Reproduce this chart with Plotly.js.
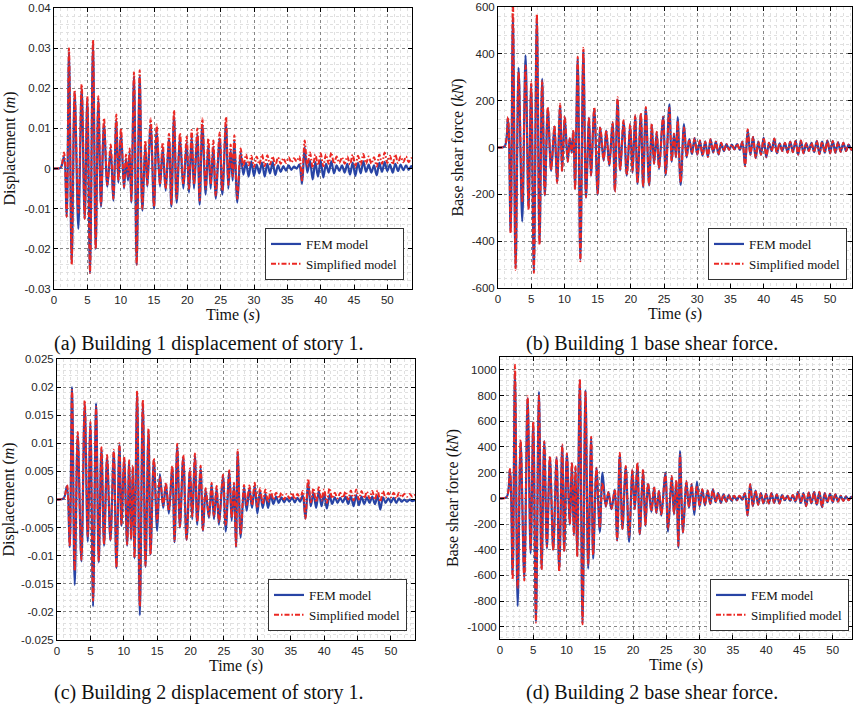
<!DOCTYPE html>
<html>
<head>
<meta charset="utf-8">
<script src="https://cdn.plot.ly/plotly-3.0.1.min.js"></script>
<style>html,body{margin:0;padding:0;background:#fff;}#chart{width:853px;height:706px;}</style>
</head>
<body>
<div id="chart"></div>
<script>
// Shared time axis (s): extremes of the response histories
const t = [0, 1.0, 1.5, 1.9, 2.25, 2.65, 3.1, 3.65, 4.15, 4.6,
  5.0, 5.4, 5.85, 6.25, 6.65, 7.05, 7.5, 8.0, 8.5, 8.9,
  9.35, 9.65, 10.05, 10.5, 10.8, 11.1, 11.35, 11.6, 12.0, 12.4,
  12.85, 13.25, 13.7, 14.0, 14.5, 15.0, 15.4, 15.9, 16.3, 16.75,
  17.25, 17.6, 18.0, 18.4, 18.9, 19.4, 19.9, 20.25, 20.65, 21.0,
  21.5, 21.85, 22.25, 22.75, 23.15, 23.5, 23.9, 24.25, 24.85, 25.25,
  25.8, 26.15, 26.5, 26.8, 27.05, 27.5, 28.0,
  28.4, 28.8, 29.2, 29.6, 30.0, 30.4, 30.8, 31.2, 31.6, 32.0,
  32.4, 32.8, 33.2, 33.6, 34.0, 34.4, 34.8, 35.2, 35.6, 36.0,
  36.4, 36.8, 37.2, 37.6, 38.0, 38.4, 38.8, 39.2, 39.6, 40.0,
  40.4, 40.8, 41.2, 41.6, 42.0, 42.4, 42.8, 43.2, 43.6, 44.0,
  44.4, 44.8, 45.2, 45.6, 46.0, 46.4, 46.8, 47.2, 47.6, 48.0,
  48.4, 48.8, 49.2, 49.6, 50.0, 50.4, 50.8, 51.2, 51.6, 52.0,
  52.4, 52.8, 53.2, 53.6, 53.9];

// (a) Building 1 displacement of story 1 (m)
const aFem = [0, 0.0002, 0.003, -0.012, 0.029, -0.0235, 0.019, -0.015, 0.020, -0.0125,
  0.0175, -0.026, 0.031, -0.020, 0.017, -0.0095, 0.011, -0.0045, 0.005, -0.008,
  0.012, -0.0035, 0.009, -0.005, 0.0025, -0.003, 0.004, -0.0085, 0.023, -0.024,
  0.023, -0.0105, 0.006, -0.0045, 0.011, -0.010, 0.0095, -0.0045, 0.005, -0.0055,
  0.0075, -0.0095, 0.013, -0.0085, 0.0075, -0.005, 0.0065, -0.006, 0.008, -0.005,
  0.0085, -0.009, 0.011, -0.0065, 0.006, -0.005, 0.0055, -0.0075, 0.0075, -0.0065,
  0.011, -0.005, 0.0045, -0.003, 0.007, -0.0085, 0.004,
  -0.0015, 0.0015, -0.002, 0.0018, -0.0018, 0.001, -0.0012, 0.0015, -0.002, 0.0012,
  -0.0012, 0.0016, -0.0016, 0.0008, -0.0008, 0.0006, -0.0005, 0.0008, -0.0003, 0.0005,
  0.0, 0.001, -0.0038, 0.0053, -0.001, 0.002, -0.0027, 0.0016, -0.002, 0.002,
  -0.0022, 0.0012, -0.001, 0.0018, -0.0012, 0.0008, -0.0006, 0.0008, -0.001, 0.0012,
  -0.0015, 0.0015, -0.0018, 0.0014, -0.0012, 0.0018, -0.0008, 0.001, -0.001, 0.0008,
  -0.0017, 0.0014, -0.0008, 0.0016, -0.0006, 0.001, -0.001, 0.0012, -0.0006, 0.001,
  -0.0004, 0.0008, -0.0003, 0.0006, 0.0];
const aSim = [0, 0.0003, 0.004, -0.012, 0.030, -0.024, 0.0195, -0.011, 0.021, -0.0125,
  0.018, -0.026, 0.032, -0.020, 0.018, -0.009, 0.0125, -0.004, 0.006, -0.0075,
  0.0135, -0.003, 0.010, -0.0046, 0.0035, -0.002, 0.005, -0.008, 0.024, -0.024,
  0.0245, -0.010, 0.007, -0.004, 0.0125, -0.0096, 0.011, -0.004, 0.0065, -0.005,
  0.0087, -0.009, 0.0145, -0.0075, 0.0088, -0.004, 0.008, -0.005, 0.0096, -0.004,
  0.010, -0.008, 0.0125, -0.005, 0.0075, -0.004, 0.007, -0.0067, 0.009, -0.0055,
  0.0128, -0.004, 0.006, -0.002, 0.0083, -0.0075, 0.005,
  0.0005, 0.0035, 0.0008, 0.0032, 0.0004, 0.003, 0.001, 0.0035, 0.0006, 0.0033,
  0.001, 0.003, 0.0008, 0.0028, 0.0012, 0.0026, 0.0014, 0.0028, 0.0015, 0.0026,
  0.0018, 0.003, -0.003, 0.007, 0.0005, 0.004, 0.0002, 0.0035, 0.0008, 0.0038,
  0.0006, 0.0035, 0.0012, 0.004, 0.0012, 0.003, 0.0014, 0.0028, 0.0012, 0.003,
  0.001, 0.0035, 0.0004, 0.0032, 0.001, 0.0036, 0.0012, 0.003, 0.0012, 0.0028,
  0.0005, 0.0035, 0.0012, 0.004, 0.0014, 0.0032, 0.001, 0.0035, 0.0014, 0.003,
  0.0016, 0.003, 0.0016, 0.0026, 0.002];

// (b) Building 1 base shear force (kN)
const bFem = [0, 5, 125, -360, 560, -515, 340, -316, 393, -260,
  270, -530, 560, -410, 293, -205, 165, -100, 90, -150,
  180, -100, 130, -62, 38, -22, 70, -178, 380, -480,
  410, -215, 128, -120, 165, -200, 85, -56, 72, -78,
  105, -185, 205, -98, 112, -120, 98, -108, 135, -155,
  142, -170, 168, -162, 98, -70, 64, -92, 133, -118,
  184, -62, 58, -42, 130, -160, 100,
  -42, 36, -28, 40, -30, 30, -35, 26, -40, 35,
  -22, 25, -30, 20, -15, 15, -10, 12, -8, 15,
  -10, 25, -78, 75, -32, 45, -45, 25, -32, 42,
  -42, 20, -15, 38, -25, 18, -15, 20, -22, 25,
  -20, 28, -30, 30, -25, 18, -15, 20, -20, 28,
  -28, 25, -22, 30, -25, 28, -22, 22, -18, 20,
  -15, 12, -10, 8, -5];
const bSim = [0, 5, 130, -366, 620, -522, 322, -230, 350, -267,
  279, -536, 570, -415, 285, -200, 173, -96, 95, -153,
  187, -104, 133, -60, 40, -20, 74, -181, 388, -486,
  425, -212, 130, -118, 173, -196, 88, -54, 74, -75,
  109, -189, 215, -96, 116, -118, 100, -104, 138, -153,
  147, -167, 173, -160, 102, -68, 67, -90, 130, -110,
  170, -60, 60, -40, 115, -150, 85,
  -40, 35, -25, 40, -30, 30, -35, 25, -40, 35,
  -20, 25, -30, 20, -15, 15, -10, 12, -8, 15,
  -10, 25, -80, 78, -30, 45, -45, 25, -30, 42,
  -40, 20, -15, 38, -25, 18, -15, 20, -22, 25,
  -20, 28, -30, 30, -25, 18, -15, 20, -20, 28,
  -28, 25, -22, 30, -25, 28, -22, 22, -18, 20,
  -15, 12, -10, 8, -5];

// (c) Building 2 displacement of story 1 (m)
const cFem = [0, 0.0002, 0.0024, -0.0085, 0.020, -0.0152, 0.0115, -0.011, 0.017, -0.0075,
  0.0135, -0.019, 0.0171, -0.0112, 0.009, -0.0082, 0.0075, -0.0073, 0.0085, -0.0122,
  0.0097, -0.0047, 0.0073, -0.0082, 0.0068, -0.0072, 0.0058, -0.0105, 0.019, -0.0206,
  0.0172, -0.012, 0.0122, -0.0098, 0.007, -0.0056, 0.0045, -0.0015, 0.0027, -0.0025,
  0.0057, -0.0076, 0.0095, -0.005, 0.0075, -0.0072, 0.0052, -0.0035, 0.0078, -0.0045,
  0.0056, -0.0056, 0.0017, -0.0033, 0.0027, -0.0035, 0.002, -0.0045, 0.0042, -0.0057,
  0.005, -0.0038, 0.0026, -0.0085, 0.0085, -0.0068, 0.0022,
  -0.002, 0.002, -0.0015, 0.0025, -0.0025, 0.0015, -0.0015, 0.001, -0.0015, 0.0008,
  -0.0008, 0.0005, -0.0006, 0.0004, -0.0005, 0.0002, -0.0004, 0.0004, -0.0005, 0.0003,
  -0.0004, 0.0008, -0.0034, 0.003, -0.0012, 0.0012, -0.0015, 0.0015, -0.0012, 0.001,
  -0.0016, 0.0008, -0.0008, 0.0004, -0.0006, 0.0003, -0.0005, 0.0005, -0.0008, 0.0006,
  -0.0012, 0.0008, -0.001, 0.0005, -0.0008, 0.0004, -0.0006, 0.0005, -0.0008, 0.0006,
  -0.0018, 0.0004, -0.0006, 0.0002, -0.0005, 0.0003, -0.0006, 0.0002, -0.0004, 0.0,
  -0.0004, 0.0, -0.0003, -0.0001, -0.0002];
const cSim = [0, 0.0002, 0.0026, -0.0083, 0.0195, -0.0127, 0.012, -0.0107, 0.0176, -0.0065,
  0.0138, -0.018, 0.0165, -0.011, 0.0093, -0.008, 0.0079, -0.0071, 0.0088, -0.0121,
  0.010, -0.0045, 0.0076, -0.008, 0.007, -0.007, 0.006, -0.0104, 0.0193, -0.019,
  0.0177, -0.0118, 0.0126, -0.0098, 0.0073, -0.004, 0.004, -0.001, 0.003, -0.002,
  0.006, -0.0074, 0.0099, -0.0048, 0.0079, -0.0071, 0.0055, -0.003, 0.0082, -0.004,
  0.006, -0.0054, 0.002, -0.003, 0.003, -0.003, 0.0024, -0.004, 0.0044, -0.0045,
  0.0052, -0.0033, 0.003, -0.0083, 0.0088, -0.0062, 0.0026,
  -0.001, 0.0025, -0.001, 0.003, -0.0015, 0.002, -0.0008, 0.0018, -0.0005, 0.0015,
  0.0, 0.0012, 0.0002, 0.0012, 0.0, 0.001, 0.0002, 0.0012, 0.0, 0.001,
  0.0002, 0.0015, -0.0034, 0.0037, -0.0005, 0.002, -0.0005, 0.0022, -0.0002, 0.0018,
  -0.0006, 0.002, 0.0002, 0.0012, 0.0002, 0.0012, 0.0003, 0.0014, 0.0, 0.0016,
  -0.0002, 0.0018, 0.0, 0.0015, 0.0002, 0.0014, 0.0002, 0.0015, 0.0, 0.0016,
  -0.0004, 0.0015, 0.0003, 0.0012, 0.0004, 0.0012, 0.0002, 0.0012, 0.0004, 0.001,
  0.0005, 0.001, 0.0005, 0.0008, 0.0006];

// (d) Building 2 base shear force (kN)
const dFem = [0, 10, 220, -600, 980, -838, 440, -620, 780, -428,
  590, -960, 828, -550, 445, -390, 320, -400, 315, -560,
  410, -410, 345, -205, 275, -285, 245, -450, 920, -975,
  840, -548, 470, -470, 235, -262, 200, -65, 48, -85,
  65, -330, 345, -240, 245, -340, 218, -85, 270, -280,
  218, -215, 115, -105, 85, -115, 58, -135, 200, -260,
  170, -125, 135, -385, 367, -270, 130,
  -75, 110, -130, 130, -65, 70, -55, 60, -45, 70,
  -30, 40, -35, 30, -25, 25, -20, 20, -15, 20,
  -10, 40, -135, 110, -60, 60, -50, 40, -40, 35,
  -40, 40, -35, 30, -40, 25, -15, 20, -20, 25,
  -25, 50, -35, 40, -60, 45, -40, 50, -50, 50,
  -70, 40, -30, 35, -30, 30, -25, 20, -20, 15,
  -15, 12, -10, 10, -5];
const dSim = [0, 10, 228, -633, 1040, -700, 456, -640, 795, -400,
  597, -967, 800, -556, 443, -377, 328, -403, 320, -570,
  418, -415, 350, -200, 280, -287, 250, -454, 930, -980,
  833, -518, 480, -440, 238, -230, 120, -60, 50, -80,
  70, -325, 354, -236, 251, -300, 225, -82, 277, -274,
  225, -210, 120, -100, 90, -110, 60, -130, 190, -236,
  174, -120, 140, -370, 340, -262, 135,
  -70, 110, -90, 100, -60, 70, -50, 60, -40, 70,
  -30, 40, -35, 30, -25, 25, -20, 20, -15, 20,
  -10, 40, -130, 110, -60, 60, -50, 40, -40, 35,
  -40, 40, -35, 30, -40, 25, -15, 20, -20, 25,
  -25, 50, -35, 40, -60, 45, -40, 50, -50, 50,
  -70, 40, -30, 35, -30, 30, -25, 20, -20, 15,
  -15, 12, -10, 10, -5];

// Tick labels
const dispA_ticks = [-0.03, -0.02, -0.01, 0, 0.01, 0.02, 0.03, 0.04];
const dispA_text = ['-0.03', '-0.02', '-0.01', '0', '0.01', '0.02', '0.03', '0.04'];
const shearB_ticks = [-600, -400, -200, 0, 200, 400, 600];
const shearB_text = ['-600', '-400', '-200', '0', '200', '400', '600'];
const dispC_ticks = [-0.025, -0.02, -0.015, -0.01, -0.005, 0, 0.005, 0.01, 0.015, 0.02, 0.025];
const dispC_text = ['-0.025', '-0.02', '-0.015', '-0.01', '-0.005', '0', '0.005', '0.01', '0.015', '0.02', '0.025'];
const shearD_ticks = [-1000, -800, -600, -400, -200, 0, 200, 400, 600, 800, 1000];
const shearD_text = ['-1000', '-800', '-600', '-400', '-200', '0', '200', '400', '600', '800', '1000'];
const timeTicks = [0, 5, 10, 15, 20, 25, 30, 35, 40, 45, 50];
const seriesNames = ['FEM model', 'Simplified model'];
const captions = ['(a) Building 1 displacement of story 1.', '(b) Building 1 base shear force.',
  '(c) Building 2 displacement of story 1.', '(d) Building 2 base shear force.'];

const SERIF = '"Liberation Serif", "Times New Roman", Times, serif';
const SANS = '"Liberation Sans", Arial, Helvetica, sans-serif';
const BLUE = 'rgb(40,68,165)';
const RED = 'rgb(235,40,35)';

const panels = [
  {fem: aFem, sim: aSim, x: 'x', y: 'y', leg: 'legend'},
  {fem: bFem, sim: bSim, x: 'x2', y: 'y2', leg: 'legend2'},
  {fem: cFem, sim: cSim, x: 'x3', y: 'y3', leg: 'legend3'},
  {fem: dFem, sim: dSim, x: 'x4', y: 'y4', leg: 'legend4'}
];

const traces = [];
panels.forEach(p => {
  traces.push({x: t, y: p.fem, xaxis: p.x, yaxis: p.y, name: seriesNames[0], legend: p.leg,
    type: 'scatter', mode: 'lines', line: {color: BLUE, width: 2.2, shape: 'spline', smoothing: 0.9}});
  traces.push({x: t, y: p.sim, xaxis: p.x, yaxis: p.y, name: seriesNames[1], legend: p.leg,
    type: 'scatter', mode: 'lines', line: {color: RED, width: 2, dash: '5px,2px,1.5px,2px', shape: 'spline', smoothing: 0.9}});
});

function xAxis(domain, anchor, range) {
  return {
    domain: domain, anchor: anchor, range: range,
    tickmode: 'array', tickvals: timeTicks, ticktext: timeTicks.map(String),
    showline: true, mirror: 'ticks', linecolor: '#000', linewidth: 1,
    ticks: 'inside', ticklen: 4, tickcolor: '#000', tickwidth: 1,
    showgrid: true, gridcolor: '#858585', griddash: 'dot', gridwidth: 1,
    minor: {dtick: 1, tick0: 0, showgrid: true, gridcolor: '#e0e0e0', griddash: 'dot', gridwidth: 1},
    zeroline: false,
    tickfont: {family: SANS, size: 11.5, color: '#262626'},
    title: {text: 'Time (<i>s</i>)', font: {family: SERIF, size: 16, color: '#111'}, standoff: 4}
  };
}
function yAxis(domain, anchor, range, vals, text, minorStep, title) {
  return {
    domain: domain, anchor: anchor, range: range,
    tickmode: 'array', tickvals: vals, ticktext: text,
    showline: true, mirror: 'ticks', linecolor: '#000', linewidth: 1,
    ticks: 'inside', ticklen: 4, tickcolor: '#000', tickwidth: 1,
    showgrid: true, gridcolor: '#858585', griddash: 'dot', gridwidth: 1,
    minor: {dtick: minorStep, tick0: 0, showgrid: true, gridcolor: '#e0e0e0', griddash: 'dot', gridwidth: 1},
    zeroline: false,
    tickfont: {family: SANS, size: 11.5, color: '#262626'},
    title: {text: title, font: {family: SERIF, size: 16, color: '#111'}, standoff: 4}
  };
}
function legendAt(xRight, yBottom) {
  return {
    x: xRight, y: yBottom, xanchor: 'right', yanchor: 'bottom',
    bgcolor: '#fff', bordercolor: '#333', borderwidth: 1,
    font: {family: SERIF, size: 13, color: '#111'},
    tracegroupgap: 0, itemwidth: 30
  };
}

const W = 853, H = 706;
const px = v => v / W;
const py = v => 1 - v / H;

const layout = {
  width: W, height: H,
  margin: {l: 0, r: 0, t: 0, b: 0},
  paper_bgcolor: '#fff', plot_bgcolor: '#fff',
  showlegend: true,
  xaxis: xAxis([px(54), px(412)], 'y', [0, 53.7]),
  yaxis: yAxis([py(289), py(8)], 'x', [-0.03, 0.04], dispA_ticks, dispA_text, 0.002, 'Displacement (<i>m</i>)'),
  xaxis2: xAxis([px(498), px(852)], 'y2', [0, 53.3]),
  yaxis2: yAxis([py(288), py(7)], 'x2', [-600, 600], shearB_ticks, shearB_text, 40, 'Base shear force (<i>kN</i>)'),
  xaxis3: xAxis([px(57), px(415)], 'y3', [0, 53.6]),
  yaxis3: yAxis([py(640), py(359)], 'x3', [-0.025, 0.025], dispC_ticks, dispC_text, 0.001, 'Displacement (<i>m</i>)'),
  xaxis4: xAxis([px(500), px(852)], 'y4', [0, 52.9]),
  yaxis4: yAxis([py(639), py(357)], 'x4', [-1095, 1100], shearD_ticks, shearD_text, 40, 'Base shear force (<i>kN</i>)'),
  legend: legendAt(px(404), py(280)),
  legend2: legendAt(px(847), py(280)),
  legend3: legendAt(px(407), py(631)),
  legend4: legendAt(px(849), py(631)),
  annotations: [
    {text: captions[0], x: px(208), y: py(343)},
    {text: captions[1], x: px(652), y: py(343)},
    {text: captions[2], x: px(208), y: py(692)},
    {text: captions[3], x: px(652), y: py(692)}
  ].map(a => Object.assign(a, {xref: 'paper', yref: 'paper', xanchor: 'center', yanchor: 'middle',
    showarrow: false, font: {family: SERIF, size: 20, color: '#111'}}))
};

Plotly.newPlot('chart', traces, layout, {displayModeBar: false, staticPlot: true});
</script>
</body>
</html>
